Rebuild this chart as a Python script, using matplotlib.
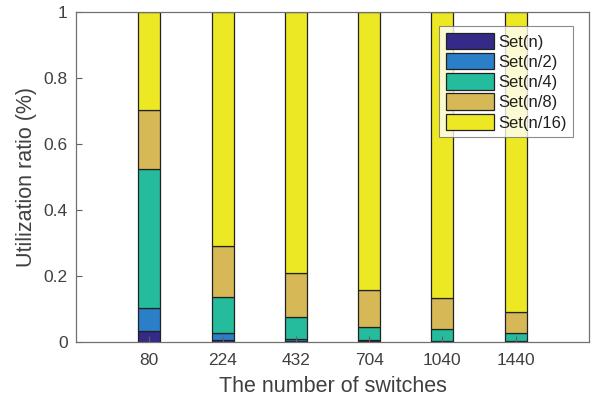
import matplotlib
matplotlib.use("Agg")
import matplotlib.pyplot as plt
import numpy as np

categories = ["80", "224", "432", "704", "1040", "1440"]
series_names = ["Set(n)", "Set(n/2)", "Set(n/4)", "Set(n/8)", "Set(n/16)"]
set_n    = [0.034, 0.005, 0.004, 0.003, 0.002, 0.001]
set_n2   = [0.070, 0.021, 0.006, 0.002, 0.001, 0.001]
set_n4   = [0.419, 0.111, 0.065, 0.041, 0.035, 0.025]
set_n8   = [0.180, 0.155, 0.133, 0.111, 0.094, 0.065]
set_n16  = [0.297, 0.708, 0.792, 0.843, 0.868, 0.908]
colors = ["#352a87", "#2b7fc9", "#25bc9d", "#d6b857", "#ede824"]

plt.rcParams['font.family'] = ['Liberation Sans', 'DejaVu Sans']
fig = plt.figure(figsize=(5.97, 4.03), dpi=100)
ax = fig.add_axes([76/597, 1-342/403, (589-76)/597, (342-12)/403])

x = np.arange(1, len(categories) + 1)
bottom = np.zeros(len(categories))
for name, vals, c in zip(series_names, [set_n, set_n2, set_n4, set_n8, set_n16], colors):
    ax.bar(x, vals, width=0.3, bottom=bottom, color=c, edgecolor="#222222",
           linewidth=0.9, label=name)
    bottom += np.array(vals)

ax.set_xlim(0, 7)
ax.set_ylim(0, 1)
ax.set_xticks(x)
ax.set_xticklabels(categories)
ax.set_yticks([0, 0.2, 0.4, 0.6, 0.8, 1])
ax.set_yticklabels(["0", "0.2", "0.4", "0.6", "0.8", "1"])
textc = "#404040"
ax.tick_params(direction="in", length=4, colors="#606060", labelcolor=textc,
               labelsize=12.5, width=0.8)
ax.tick_params(axis='x', pad=8)
ax.tick_params(axis='y', pad=6)
for s in ax.spines.values():
    s.set_color("#707070")
    s.set_linewidth(0.9)
ax.set_xlabel("The number of switches", fontsize=15.5, color=textc, labelpad=6)
ax.set_ylabel("Utilization ratio (%)", fontsize=15.5, color=textc, labelpad=5)

leg = ax.legend(loc="upper right", bbox_to_anchor=(0.9688, 0.9575), fontsize=12,
                frameon=True, fancybox=False, edgecolor="#707070",
                handlelength=2.9, handleheight=1.15, borderpad=0.4,
                labelspacing=0.2, handletextpad=0.2, borderaxespad=0.0)
leg.get_frame().set_linewidth(0.8)
for t in leg.get_texts():
    t.set_color("#202020")

fig.savefig("out.png", dpi=100)
